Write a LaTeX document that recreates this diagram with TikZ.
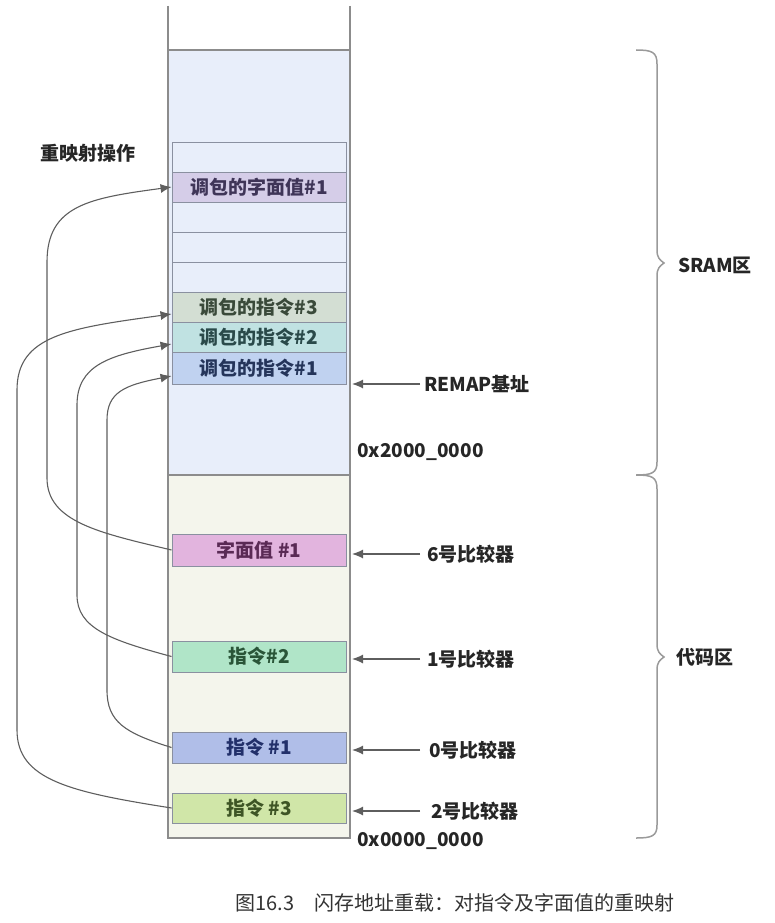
\documentclass[tikz,border=0pt]{standalone}
\usepackage{fontspec}
\setmainfont{Noto Sans CJK SC}
\usetikzlibrary{arrows.meta}
\usetikzlibrary{calc,positioning}

\definecolor{sramfill}{HTML}{E8EEFA}
\definecolor{codefill}{HTML}{F4F5EC}
\definecolor{colline}{HTML}{8C8C8C}
\definecolor{cellline}{HTML}{8A90A0}
\definecolor{arrline}{HTML}{5E5E5E}
\definecolor{bracecol}{HTML}{9A9A9A}
\definecolor{litrfill}{HTML}{D5CDE8}
\definecolor{insrthree}{HTML}{D3DED3}
\definecolor{insrtwo}{HTML}{C0E2E2}
\definecolor{insrone}{HTML}{C0D2F0}
\definecolor{litfill}{HTML}{E2B4DE}
\definecolor{instwo}{HTML}{B0E5C8}
\definecolor{insone}{HTML}{B0BEE8}
\definecolor{insthree}{HTML}{D0E6A8}
\definecolor{litrtext}{HTML}{3F3558}
\definecolor{insrthreetext}{HTML}{3A4A3A}
\definecolor{insrtwotext}{HTML}{2A4A4A}
\definecolor{insronetext}{HTML}{25355A}
\definecolor{littext}{HTML}{5A2A55}
\definecolor{instwotext}{HTML}{2A5538}
\definecolor{insonetext}{HTML}{22306A}
\definecolor{insthreetext}{HTML}{3E5525}

\begin{document}
\begin{tikzpicture}[x=1pt,y=-1pt,
    cell/.style={draw=cellline,line width=0.9pt,minimum width=174pt,minimum height=30pt,
      inner sep=0pt,font=\fontsize{19}{19}\selectfont\bfseries,text=black!75},
    tag/.style={anchor=west,inner sep=0pt,font=\fontsize{19}{19}\selectfont\bfseries,text=black!85},
    cmp/.style={draw=arrline,line width=1.2pt,-{Latex[length=11pt,width=9pt]}},
    remap/.style={draw=arrline,line width=1.1pt,-{Latex[length=11pt,width=9pt]}},
    region/.style={draw=colline,line width=1.3pt},
    bracel/.style={draw=bracecol,line width=1.5pt}]
  \useasboundingbox (0,0) rectangle (775,923);

  % memory column
  \draw[region] (168,6) -- (168,50);
  \draw[region] (350,6) -- (350,50);
  \draw[region,fill=sramfill] (168,50) rectangle (350,475);
  \draw[region,fill=codefill] (168,475) rectangle (350,838);

  % SRAM slots
  \node[cell,fill=sramfill] (eone) at (259,157) {};
  \node[cell,fill=litrfill,text=litrtext] (litr) at (259,187) {调包的字面值\#1};
  \node[cell,fill=sramfill] (etwo) at (259,217) {};
  \node[cell,fill=sramfill] (ethree) at (259,247) {};
  \node[cell,fill=sramfill] (efour) at (259,277) {};
  \node[cell,fill=insrthree,text=insrthreetext] (insrthree) at (259,307) {调包的指令\#3};
  \node[cell,fill=insrtwo,text=insrtwotext] (insrtwo) at (259,337) {调包的指令\#2};
  \node[cell,fill=insrone,minimum height=32pt,text=insronetext] (insrone) at (259,368) {调包的指令\#1};

  % code slots
  \node[cell,fill=litfill,minimum height=32pt,text=littext] (lit) at (259,550) {字面值 \#1};
  \node[cell,fill=instwo,minimum height=31pt,text=instwotext] (instwo) at (259,656.5) {指令\#2};
  \node[cell,fill=insone,minimum height=31pt,text=insonetext] (insone) at (259,747.5) {指令 \#1};
  \node[cell,fill=insthree,text=insthreetext] (insthree) at (259,808) {指令 \#3};

  % comparators and addresses
  \coordinate (remapat) at (352,384);
  \coordinate (sixat) at (352,554);
  \coordinate (oneat) at (352,659);
  \coordinate (zeroat) at (352,750);
  \coordinate (twoat) at (352,811);
  \node[tag] (remaplbl) at (424,384) {REMAP基址};
  \node[tag] (sixlbl) at (427,554) {6号比较器};
  \node[tag] (onelbl) at (427,659) {1号比较器};
  \node[tag] (zerolbl) at (429,750) {0号比较器};
  \node[tag] (twolbl) at (431,811) {2号比较器};
  \draw[cmp] ([xshift=-4pt]remaplbl.west) -- (remapat);
  \draw[cmp] ([xshift=-7pt]sixlbl.west) -- (sixat);
  \draw[cmp] ([xshift=-7pt]onelbl.west) -- (oneat);
  \draw[cmp] ([xshift=-9pt]zerolbl.west) -- (zeroat);
  \draw[cmp] ([xshift=-11pt]twolbl.west) -- (twoat);
  \node[tag] (sramtop) at (357,452) {0x2000\_0000};
  \node[tag] (codebot) at (357,841) {0x0000\_0000};

  % remap curves
  \node[tag] (remapop) at (40,153) {重映射操作};
  \draw[remap] (lit.west) .. controls (100,533) and (47,522) .. (47,478) -- (47,262)
    .. controls (47,205) and (90,198) .. (litr.west);
  \draw[remap] (instwo.west) .. controls (110,640) and (77,628) .. (77,595) -- (77,405)
    .. controls (77,365) and (110,355) .. ([yshift=-7pt]insrtwo.west);
  \draw[remap] (insone.west) .. controls (125,733) and (107,722) .. (107,690) -- (107,420)
    .. controls (107,392) and (125,385) .. ([yshift=-8pt]insrone.west);
  \draw[remap] (insthree.west) .. controls (70,792) and (17,780) .. (17,730) -- (17,390)
    .. controls (17,335) and (70,328) .. ([yshift=-7pt]insrthree.west);

  % braces
  \draw[bracel] (636,50) .. controls (652,50) and (657,52) .. (657,64) -- (657,250)
    .. controls (657,258) and (660,260) .. (664,263) .. controls (660,266) and (657,268) .. (657,276)
    -- (657,462) .. controls (657,473) and (652,475) .. (636,475);
  \draw[bracel] (636,475) .. controls (652,475) and (657,477) .. (657,489) -- (657,644)
    .. controls (657,652) and (660,654) .. (664,657) .. controls (660,660) and (657,662) .. (657,670)
    -- (657,825) .. controls (657,836) and (652,838) .. (636,838);
  \node[tag] (sramlbl) at (678,265) {SRAM区};
  \node[tag] (codelbl) at (676,657) {代码区};

  \node[font=\fontsize{20}{20}\selectfont,text=black!80] (caption) at (455,903)
    {图16.3\quad 闪存地址重载：对指令及字面值的重映射};
\end{tikzpicture}
\end{document}
